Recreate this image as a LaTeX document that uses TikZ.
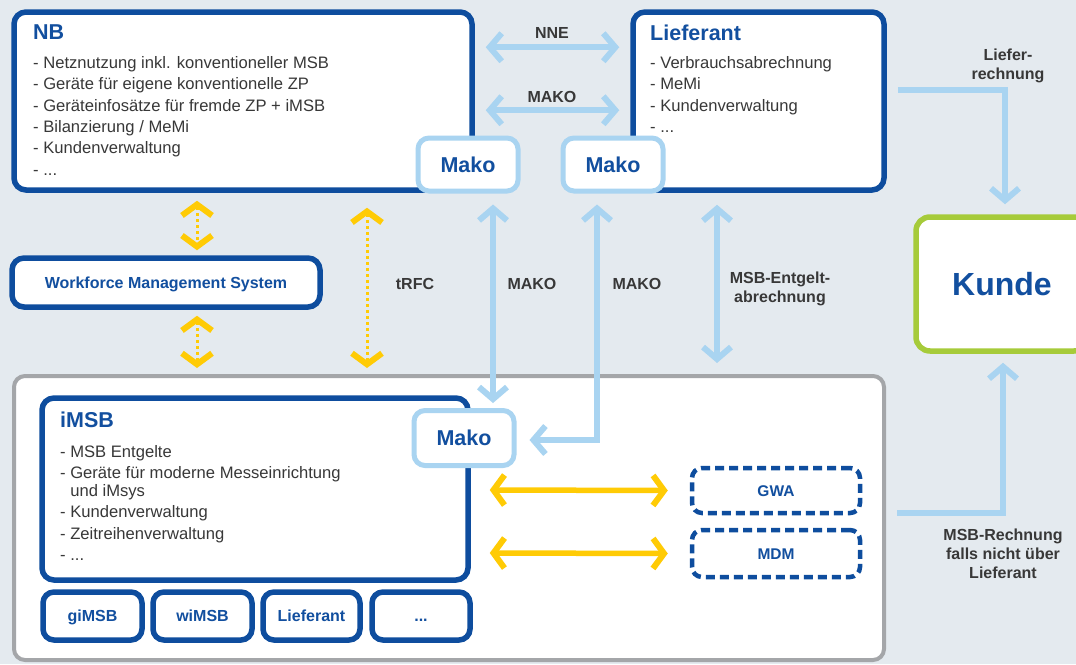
\documentclass[tikz,border=0pt]{standalone}
\usepackage{fontspec}
\setmainfont{Liberation Sans}
\usetikzlibrary{arrows.meta,calc}
\definecolor{bg}{HTML}{E4EAEF}
\definecolor{dblue}{HTML}{0E4D9E}
\definecolor{tblue}{HTML}{124F9F}
\definecolor{lblue}{HTML}{A9D4F1}
\definecolor{yel}{HTML}{FFCB05}
\definecolor{kgreen}{HTML}{A6CB3A}
\definecolor{cgrey}{HTML}{A4A6A9}
\definecolor{txt}{HTML}{383838}
\tikzset{
  lbtip/.tip={Straight Barb[length=12pt,width=28pt]},
  ytip/.tip={Straight Barb[length=11pt,width=30pt,line width=6pt]},
  lbboth/.style={draw=lblue, line width=6, lbtip-lbtip},
  lbend/.style={draw=lblue, line width=6, -lbtip},
  ydot/.style={draw=yel, line width=3, dash pattern=on 3pt off 3pt, ytip-ytip},
  ysolid/.style={draw=yel, line width=5.5, ytip-ytip},
  lbl/.style={font=\fontsize{16}{19}\selectfont\bfseries, text=txt, inner sep=0, align=center},
  body/.style={font=\fontsize{16.6}{21.4}\selectfont, text=txt, inner sep=0, align=left, anchor=north west},
  ttl/.style={font=\fontsize{21.5}{24}\selectfont\bfseries, text=tblue, inner sep=0, anchor=base west},
  mainbox/.style={draw=dblue, line width=5.5, fill=white, rounded corners=12, inner sep=0},
  makobox/.style={draw=lblue, line width=5, fill=white, rounded corners=11, inner sep=0,
    minimum width=100, minimum height=53, font=\fontsize{21.5}{24}\selectfont\bfseries,
    text=tblue, text height=15.4, text depth=0},
  smallbox/.style={draw=dblue, line width=5.5, fill=white, rounded corners=11, inner sep=0,
    minimum height=48, font=\fontsize{16}{19}\selectfont\bfseries, text=tblue,
    text height=11.5, text depth=0},
  dashbox/.style={draw=dblue, line width=4.5, dash pattern=on 9pt off 5pt, fill=white,
    rounded corners=10, inner sep=0, minimum width=168, font=\fontsize{15.5}{19}\selectfont\bfseries,
    text=tblue, text height=11.2, text depth=0},
}
\begin{document}
\begin{tikzpicture}[x=1pt,y=-1pt]
\useasboundingbox (0,0) rectangle (1076,664);
\fill[bg] (0,0) rectangle (1076,664);

% container
\node[draw=cgrey, line width=4, fill=white, rounded corners=11, inner sep=0,
  minimum width=870, minimum height=284] (cont) at (449,518) {};

% main boxes
\node[mainbox, minimum width=458, minimum height=178] (nb) at (243,101) {};
\node[mainbox, minimum width=251, minimum height=178] (lief) at (758.5,101) {};
\node[mainbox, minimum width=426, minimum height=182] (imsb) at (255,489) {};
\node[mainbox, minimum width=308, minimum height=49, font=\fontsize{16}{19}\selectfont\bfseries,
  text=tblue, text height=11.5, text depth=0] (wfm) at (166,282.5) {Workforce Management System};
\node[draw=kgreen, line width=5.5, fill=white, rounded corners=14, inner sep=0,
  minimum width=172, minimum height=134, font=\fontsize{32}{36}\selectfont\bfseries,
  text=tblue, text height=23, text depth=0] (kunde) at (1002,284) {Kunde};

% titles and lists
\node[ttl] (nbt) at (33,39) {NB};
\node[body] (nbl) at (33,56) {- Netznutzung inkl. konventioneller MSB\\
- Geräte für eigene konventionelle ZP\\
- Geräteinfosätze für fremde ZP + iMSB\\
- Bilanzierung / MeMi\\
- Kundenverwaltung\\
- ...};
\node[ttl] (lieft) at (650,40) {Lieferant};
\node[body] (liefl) at (650,56) {- Verbrauchsabrechnung\\
- MeMi\\
- Kundenverwaltung\\
- ...};
\node[ttl] (imsbt) at (60,427) {iMSB};
\node[body] (imsbl) at (60,445) {- MSB Entgelte\\
- Geräte für moderne Messeinrichtung\\[-3.5pt]
\phantom{- }und iMsys\\
- Kundenverwaltung\\
- Zeitreihenverwaltung\\
- ...};

% small boxes
\node[smallbox, minimum width=99] (gimsb) at (92.5,616) {giMSB};
\node[smallbox, minimum width=99] (wimsb) at (202.5,616) {wiMSB};
\node[smallbox, minimum width=97] (liefs) at (311.5,616) {Lieferant};
\node[smallbox, minimum width=98] (dots) at (421,616) {...};

% dashed boxes
\node[dashbox, minimum height=45] (gwa) at (776,490.5) {GWA};
\node[dashbox, minimum height=47] (mdm) at (776,553.5) {MDM};

% light blue connectors
\draw[lbboth] ($(nb.north east)+(11,38)$) -- ($(lief.north west)+(-11,38)$);
\draw[lbboth] ($(nb.north east)+(11,101)$) -- ($(lief.north west)+(-11,101)$);
\draw[lbboth] ($(lief.south)+(-41.5,12)$) -- ($(cont.north)+(268,-11)$);
\draw[lbend] ($(lief.east)+(11,-11)$) -| ($(kunde.north)+(3,-10)$);
\draw[lbend] ($(cont.east)+(11,-5)$) -| ($(kunde.south)+(1,9)$);

% yellow connectors
\draw[ydot] ($(nb.south)+(-46,8)$) -- ($(wfm.north)+(31,-5)$);
\draw[ydot] ($(wfm.south)+(31,6)$) -- ($(cont.north)+(-252,-6)$);
\draw[ydot] ($(nb.south)+(124,15)$) -- ($(cont.north)+(-82,-6)$);
\draw[ysolid] ($(imsb.east)+(19,1)$) -- ($(gwa.west)+(-22,0)$);
\draw[ysolid] ($(imsb.east)+(19,64)$) -- ($(mdm.west)+(-22,0)$);

% mako boxes
\node[makobox] (mako1) at (468,164.5) {Mako};
\node[makobox] (mako2) at (613,164.5) {Mako};
\node[makobox, minimum height=55] (mako3) at (464,438) {Mako};
\draw[lbboth] ($(mako1.south)+(25,11)$) -- ($(mako3.north)+(29,-5)$);
\draw[lbboth] ($(mako2.south)+(-16,11)$) |- ($(mako3.east)+(13,2)$);

% labels
\node[lbl, anchor=base] (lnne) at (552,38) {NNE};
\node[lbl, anchor=base] (lmako1) at (552,102) {MAKO};
\node[lbl, anchor=base] (lmako2) at (532,289) {MAKO};
\node[lbl, anchor=base] (lmako3) at (637,289) {MAKO};
\node[lbl, anchor=base] (ltrfc) at (415,289) {tRFC};
\node[lbl, anchor=north] (lentg) at (780,272) {MSB-Entgelt-\\abrechnung};
\node[lbl, anchor=north] (llief) at (1008,49) {Liefer-\\rechnung};
\node[lbl, anchor=north] (lmsbr) at (1003,529) {MSB-Rechnung\\falls nicht über\\Lieferant};
\end{tikzpicture}
\end{document}
